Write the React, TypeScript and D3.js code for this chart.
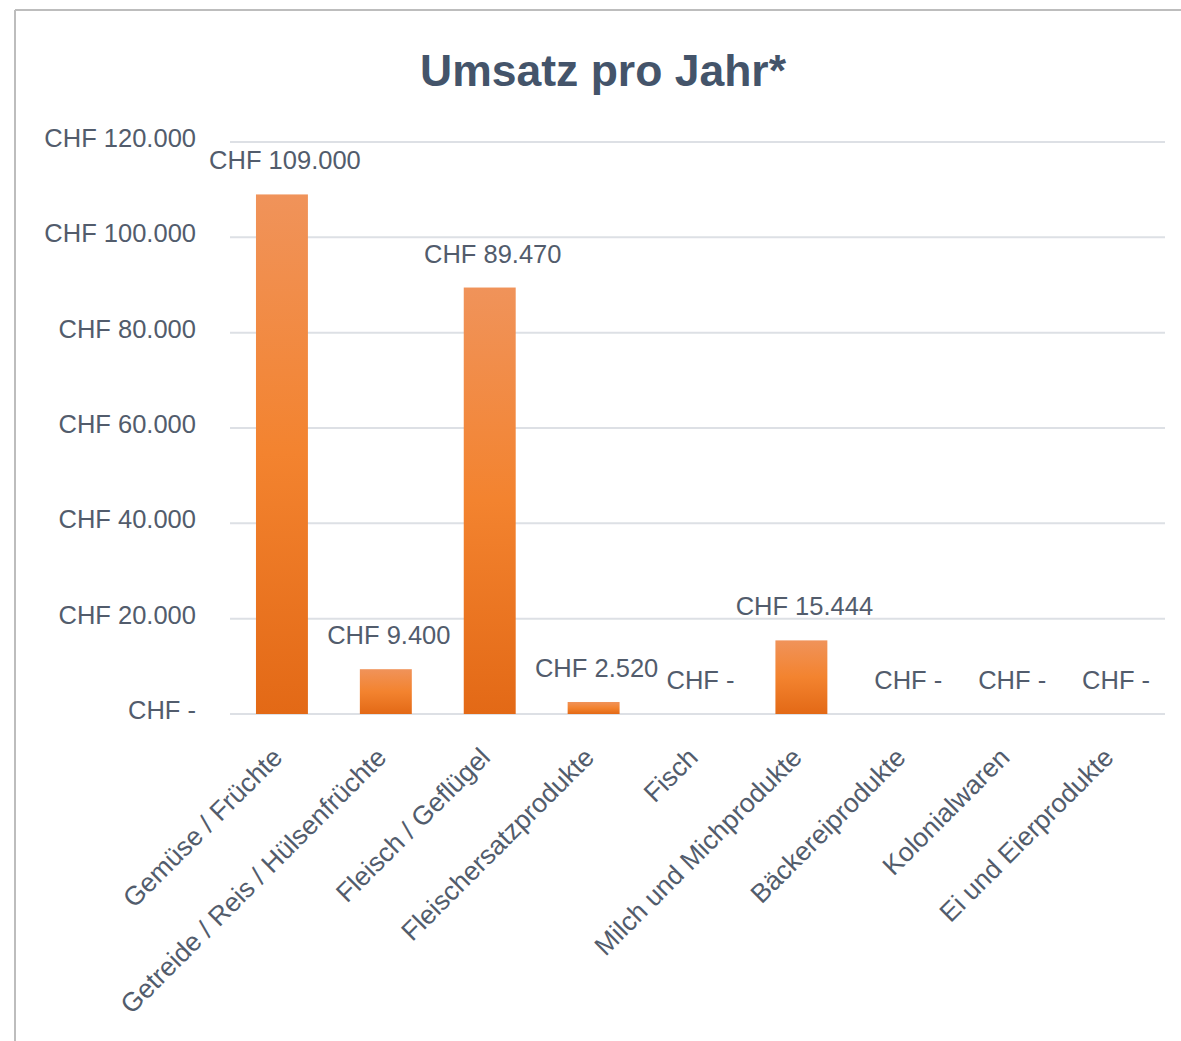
import React from "react";
import * as d3 from "d3";

const categories = [
  "Gemüse / Früchte",
  "Getreide / Reis / Hülsenfrüchte",
  "Fleisch / Geflügel",
  "Fleischersatzprodukte",
  "Fisch",
  "Milch und Michprodukte",
  "Bäckereiprodukte",
  "Kolonialwaren",
  "Ei und Eierprodukte",
];
const values = [109000, 9400, 89470, 2520, 0, 15444, 0, 0, 0];
const yTicks = [0, 20000, 40000, 60000, 80000, 100000, 120000];
const title = "Umsatz pro Jahr*";

const W = 1181;
const H = 1041;
const FONT = "'Liberation Sans', Arial, sans-serif";
const TEXT = "#525C6C";

const loc = d3.formatLocale({ decimal: ",", thousands: ".", grouping: [3], currency: ["", ""] });
const fmtNum = loc.format(",.0f");
const chf = (v: number) => (v === 0 ? "CHF -" : `CHF ${fmtNum(v)}`);

export default function App() {
  const x = d3.scaleBand<string>().domain(categories).range([230, 1165]).paddingInner(0.5).paddingOuter(0.25);
  const y = d3.scaleLinear().domain([0, 120000]).range([714, 142]);
  const bw = x.bandwidth();

  return (
    <svg width={W} height={H} style={{ position: "absolute", left: 0, top: 0, background: "#fff" }}>
      <defs>
        <linearGradient id="barGrad" x1="0" y1="0" x2="0" y2="1">
          <stop offset="0" stopColor="#F0935A" />
          <stop offset="0.5" stopColor="#F3832F" />
          <stop offset="1" stopColor="#E36916" />
        </linearGradient>
      </defs>
      <rect x={0} y={0} width={W} height={H} fill="#fff" />
      {/* frame */}
      <line x1={15} x2={W} y1={10} y2={10} stroke="#BDBDBD" strokeWidth={2} />
      <line x1={15} x2={15} y1={10} y2={H} stroke="#BDBDBD" strokeWidth={2} />

      <text x={603} y={86} textAnchor="middle" fontFamily={FONT} fontWeight="bold" fontSize={44.5} fill="#44546A">
        {title}
      </text>

      {/* grid + y labels */}
      {yTicks.map((t) => (
        <g key={t}>
          <line x1={230} x2={1165} y1={y(t)} y2={y(t)} stroke="#DDE0E5" strokeWidth={2} />
          <text x={196} y={y(t) - 4} dy="0.35em" textAnchor="end" fontFamily={FONT} fontSize={25.5} fill={TEXT}>
            {chf(t)}
          </text>
        </g>
      ))}

      {/* bars */}
      {categories.map((c, i) => {
        const v = values[i];
        const x0 = x(c)!;
        const top = y(v);
        return (
          <g key={c}>
            {v > 0 && (
              <rect x={x0} y={top} width={bw} height={y(0) - top} fill="url(#barGrad)" />
            )}
            <text
              x={x0 + bw / 2 + 3}
              y={top - 25}
              textAnchor="middle"
              fontFamily={FONT}
              fontSize={25.5}
              fill={TEXT}
            >
              {chf(v)}
            </text>
            <text
              transform={`translate(${x0 + bw / 2 + 2},${759}) rotate(-45)`}
              textAnchor="end"
              fontFamily={FONT}
              fontSize={26.5}
              fill={TEXT}
            >
              {c}
            </text>
          </g>
        );
      })}
    </svg>
  );
}
